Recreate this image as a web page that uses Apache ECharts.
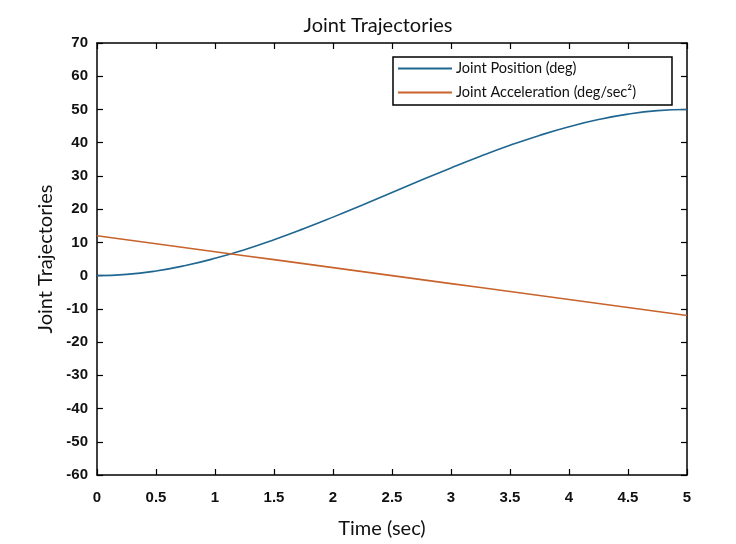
<!DOCTYPE html>
<html>
<head>
<meta charset="utf-8">
<title>Joint Trajectories</title>
<script src="https://cdn.jsdelivr.net/npm/echarts@6/dist/echarts.min.js"></script>
<style>
  html, body { margin: 0; padding: 0; background: #fff; }
  #box { width: 736px; height: 544px; }
</style>
</head>
<body>
<div id="box"></div>
<script>
// time samples (sec)
var time = [0, 0.25, 0.5, 0.75, 1, 1.25, 1.5, 1.75, 2, 2.25, 2.5, 2.75, 3, 3.25, 3.5, 3.75, 4, 4.25, 4.5, 4.75, 5];
// joint position (deg)
var position = [0, 0.36, 1.4, 3.04, 5.2, 7.81, 10.8, 14.09, 17.6, 21.26, 25, 28.74, 32.4, 35.91, 39.2, 42.19, 44.8, 46.96, 48.6, 49.64, 50];
// joint acceleration (deg/sec^2)
var acceleration = [12, 10.8, 9.6, 8.4, 7.2, 6, 4.8, 3.6, 2.4, 1.2, 0, -1.2, -2.4, -3.6, -4.8, -6, -7.2, -8.4, -9.6, -10.8, -12];

var seriesNames = ['Joint Position (deg)', 'Joint Acceleration (deg/sec\u00b2)'];
var colors = ['#1f6691', '#c8632c'];

function pairs(ys) {
    var out = [];
    for (var i = 0; i < time.length; i++) {
        out.push([time[i], ys[i]]);
    }
    return out;
}

var myChart = echarts.init(document.getElementById('box'));

var tickLabel = { color: '#111', fontFamily: 'Liberation Sans', fontSize: 15, fontWeight: 'bold' };
var axisBlack = { onZero: false, lineStyle: { color: '#000', width: 1.5 } };
var tickIn = { inside: true, length: 6, lineStyle: { color: '#000', width: 1.2 } };

var option = {
    backgroundColor: '#fff',
    animation: false,
    title: {
        text: 'Joint Trajectories',
        left: 373,
        textAlign: 'center',
        top: 11,
        textStyle: { fontFamily: 'Lato', fontSize: 20, fontWeight: 'normal', color: '#111' }
    },
    legend: {
        orient: 'vertical',
        left: 393,
        top: 57,
        padding: [4, 36, 5, 5],
        itemGap: 9,
        itemWidth: 54,
        itemHeight: 2,
        icon: 'rect',
        borderColor: '#000',
        borderWidth: 1.5,
        backgroundColor: '#fff',
        textStyle: { fontFamily: 'Lato', fontSize: 14.5, color: '#111', padding: [0, 0, 0, -1] },
        data: seriesNames
    },
    grid: { left: 97, right: 49, top: 43, bottom: 65 },
    xAxis: [{
        type: 'value',
        min: 0, max: 5, interval: 0.5,
        name: 'Time (sec)',
        nameLocation: 'middle',
        nameGap: 44,
        nameTextStyle: { fontFamily: 'Lato', fontSize: 20, color: '#111', padding: [0, 20, 0, 0] },
        axisLine: axisBlack,
        axisTick: tickIn,
        axisLabel: Object.assign({ margin: 15 }, tickLabel),
        splitLine: { show: false }
    }, {
        type: 'value',
        position: 'top',
        min: 0, max: 5, interval: 0.5,
        axisLine: axisBlack,
        axisTick: tickIn,
        axisLabel: { show: false },
        splitLine: { show: false }
    }],
    yAxis: [{
        type: 'value',
        min: -60, max: 70, interval: 10,
        name: 'Joint Trajectories',
        nameLocation: 'middle',
        nameGap: 41,
        nameRotate: 90,
        nameTextStyle: { fontFamily: 'Lato', fontSize: 20, color: '#111' },
        axisLine: axisBlack,
        axisTick: tickIn,
        axisLabel: Object.assign({ margin: 9, padding: [6, 0, 0, 0] }, tickLabel),
        splitLine: { show: false }
    }, {
        type: 'value',
        position: 'right',
        min: -60, max: 70, interval: 10,
        axisLine: axisBlack,
        axisTick: tickIn,
        axisLabel: { show: false },
        splitLine: { show: false }
    }],
    series: [
        {
            name: seriesNames[0],
            type: 'line',
            showSymbol: false,
            smooth: true,
            itemStyle: { color: colors[0] },
            lineStyle: { color: colors[0], width: 1.6 },
            data: pairs(position)
        },
        {
            name: seriesNames[1],
            type: 'line',
            showSymbol: false,
            itemStyle: { color: colors[1] },
            lineStyle: { color: colors[1], width: 1.6 },
            data: pairs(acceleration)
        }
    ]
};
myChart.setOption(option);
</script>
</body>
</html>
